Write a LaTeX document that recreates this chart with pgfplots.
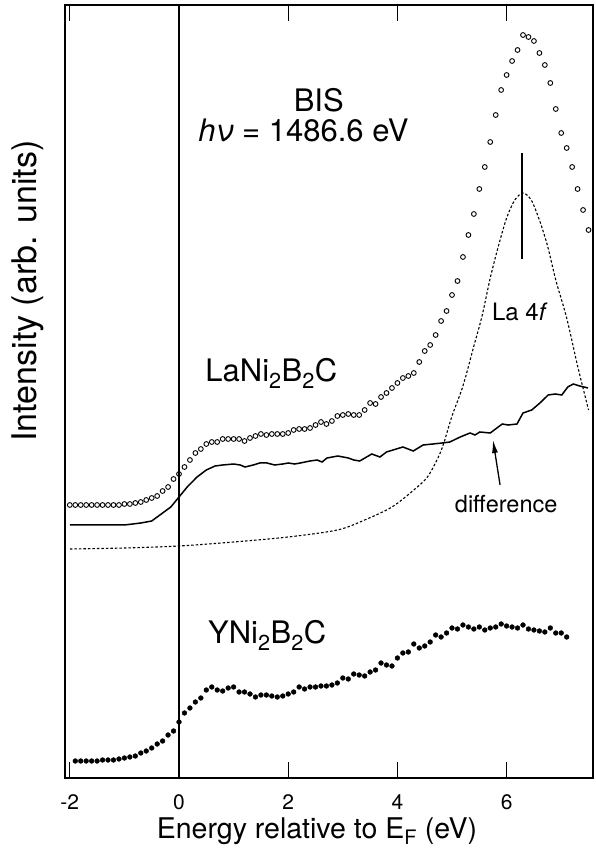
\documentclass[border=0pt]{standalone}
\usepackage{fontspec}
\setmainfont{TeX Gyre Heros}
\usepackage{pgfplots}
\pgfplotsset{compat=1.18}
\usetikzlibrary{arrows.meta}

\begin{document}
\begin{tikzpicture}
    \begin{axis}[
        scale only axis,
        width=528pt,
        height=773pt,
        xmin=-2.088, xmax=7.582,
        ymin=0, ymax=773,
        xtick={-2,0,2,4,6},
        ytick=\empty,
        tick align=inside,
        major tick length=16pt,
        axis line style={line width=1.3pt},
        every tick/.style={line width=1.1pt, black},
        xticklabel style={/pgf/number format/assume math mode=true,
            font=\fontsize{21}{21}\selectfont, yshift=-13pt},
        xlabel={Energy relative to E\textsubscript{F} (eV)},
        xlabel style={font=\fontsize{28.5}{28.5}\selectfont, inner sep=1pt,
            xshift=-12pt, yshift=-3pt},
        ylabel={Intensity (arb. units)},
        ylabel style={font=\fontsize{34}{34}\selectfont,
            at={(axis description cs:-0.07,0.63)}, anchor=center},
        clip=false,
        ]

        % E_F marker
        \addplot[black, line width=1.3pt] coordinates {(0,0) (0,773)};

        % LaNi2B2C BIS, open circles
        \addplot[only marks, mark=o, mark size=2.4pt, mark options={line width=0.9pt}] coordinates {
            (-2.0,273) (-1.9,273) (-1.8,273) (-1.7,273) (-1.6,273) (-1.5,273)
            (-1.4,273) (-1.3,273) (-1.2,273) (-1.1,273) (-1.0,274) (-0.9,274)
            (-0.8,275) (-0.7,276) (-0.6,278) (-0.5,280) (-0.4,282) (-0.3,287)
            (-0.2,291) (-0.1,299) (0.0,304) (0.1,311) (0.2,318) (0.3,325)
            (0.4,329) (0.5,334) (0.6,336) (0.7,336) (0.8,339) (0.9,339)
            (1.0,339) (1.1,339) (1.2,337) (1.3,340) (1.4,342) (1.5,344)
            (1.6,343) (1.7,344) (1.8,344) (1.9,344) (2.0,345) (2.1,348)
            (2.2,349) (2.3,349) (2.4,350) (2.5,353) (2.6,356) (2.7,354)
            (2.8,357) (2.9,362) (3.0,363) (3.1,364) (3.2,363) (3.3,363)
            (3.4,368) (3.5,375) (3.6,374) (3.7,381) (3.8,385) (3.9,390)
            (4.0,395) (4.1,400) (4.2,402) (4.3,405) (4.4,416) (4.5,427)
            (4.6,433) (4.7,443) (4.8,457) (4.9,467) (5.0,483) (5.1,497)
            (5.2,521) (5.3,543) (5.4,564) (5.5,589) (5.6,611) (5.7,636)
            (5.8,663) (5.9,688) (6.0,703) (6.1,717) (6.2,728) (6.3,743)
            (6.4,741) (6.5,737) (6.6,725) (6.7,713) (6.8,695) (6.9,669)
            (7.0,645) (7.1,630) (7.2,611) (7.3,589) (7.4,568) (7.5,548)
        };

        % difference, solid
        \addplot[black, line width=1.5pt] coordinates {
            (-2.0,253) (-1.0,253) (-0.7,255) (-0.5,257) (-0.35,263) (-0.15,271)
            (0,281) (0.15,291) (0.33,301) (0.5,308) (0.66,312) (0.8,313)
            (1.0,314) (1.12,313) (1.21,311) (1.36,313) (1.48,315) (1.61,315)
            (1.75,313) (1.9,314) (2.0,315) (2.12,314) (2.22,315) (2.4,317)
            (2.53,318) (2.62,316) (2.71,320) (2.91,322) (3.1,320) (3.2,318)
            (3.31,317) (3.53,324) (3.68,321) (3.8,326) (3.92,328) (4.1,331)
            (4.29,327) (4.47,333) (4.65,334) (4.82,335) (4.96,336)
            (5.15,341) (5.33,345) (5.42,343) (5.51,346) (5.7,345) (5.92,354)
            (6.03,353) (6.19,354) (6.3,365) (6.46,368) (6.61,375) (6.76,383)
            (6.89,384) (7.01,383) (7.12,391) (7.22,394) (7.34,392) (7.49,390)
        };

        % La 4f component, dotted
        \addplot[black, line width=1.1pt, dash pattern=on 2.5pt off 2pt, smooth] coordinates {
            (-2.0,229) (-1.0,230) (0,232) (1.0,236) (2.0,241) (2.9,248)
            (3.4,258) (3.9,271) (4.3,288) (4.55,301) (4.75,321) (4.85,335)
            (5.0,362) (5.2,392) (5.4,432) (5.55,462) (5.7,500) (5.85,532)
            (6.0,560) (6.15,578) (6.3,585) (6.45,578) (6.6,558) (6.75,532)
            (6.9,498) (7.1,460) (7.3,412) (7.5,368)
        };

        % YNi2B2C BIS, filled dots
        \addplot[only marks, mark=*, mark size=2.4pt] coordinates {
            (-1.9,17) (-1.8,17) (-1.7,17) (-1.6,17) (-1.5,17) (-1.4,18)
            (-1.3,18) (-1.2,18) (-1.1,19) (-1.0,20) (-0.9,21) (-0.8,22)
            (-0.7,25) (-0.6,27) (-0.5,30) (-0.4,34) (-0.3,37) (-0.2,43)
            (-0.1,47) (0.0,56) (0.1,65) (0.2,70) (0.3,76) (0.4,80)
            (0.5,88) (0.6,91) (0.7,88) (0.8,87) (0.9,90) (1.0,91)
            (1.1,86) (1.2,86) (1.3,84) (1.4,81) (1.5,83) (1.6,83)
            (1.7,82) (1.8,81) (1.9,82) (2.0,84) (2.1,86) (2.2,91)
            (2.3,89) (2.4,91) (2.5,91) (2.6,92) (2.7,92) (2.8,93)
            (2.9,95) (3.0,100) (3.1,99) (3.2,104) (3.3,103) (3.4,102)
            (3.5,106) (3.6,108) (3.7,115) (3.8,113) (3.9,112) (4.0,120)
            (4.1,125) (4.2,126) (4.3,134) (4.4,130) (4.5,132) (4.6,136)
            (4.7,143) (4.8,141) (4.9,145) (5.0,150) (5.1,149) (5.2,153)
            (5.3,151) (5.4,149) (5.5,151) (5.6,148) (5.7,150) (5.8,151)
            (5.9,154) (6.0,152) (6.1,151) (6.2,150) (6.3,153) (6.4,149)
            (6.5,148) (6.6,147) (6.7,146) (6.8,150) (6.9,145) (7.0,145)
            (7.1,141)
        };

        % peak marker of La 4f
        \addplot[black, line width=1.3pt] coordinates {(6.28,519) (6.28,625)};

        % labels
        \node[anchor=base, font=\fontsize{31}{31}\selectfont, inner sep=0pt] at (axis cs:2.56,666) {BIS};
        \node[anchor=base west, font=\fontsize{31}{31}\selectfont, inner sep=0pt] at (axis cs:0.35,636) {\textit{hν} = 1486.6 eV};
        \node[anchor=base west, font=\fontsize{31}{31}\selectfont, inner sep=0pt] at (axis cs:0.48,396) {LaNi\textsubscript{2}B\textsubscript{2}C};
        \node[anchor=base west, font=\fontsize{31}{31}\selectfont, inner sep=0pt] at (axis cs:0.53,134) {YNi\textsubscript{2}B\textsubscript{2}C};
        \node[anchor=base west, font=\fontsize{24}{24}\selectfont, inner sep=0pt] at (axis cs:5.73,457) {La 4\textit{f}};
        \node[anchor=base west, font=\fontsize{23.5}{23.5}\selectfont, inner sep=0pt] at (axis cs:5.05,265) {difference};
        \draw[line width=1.3pt, -{Latex[length=13pt,width=6pt]}] (axis cs:5.88,293) -- (axis cs:5.75,338);
    \end{axis}
    \pgfresetboundingbox
    \path (-65pt,-70pt) rectangle (530pt,778pt);
\end{tikzpicture}
\end{document}
